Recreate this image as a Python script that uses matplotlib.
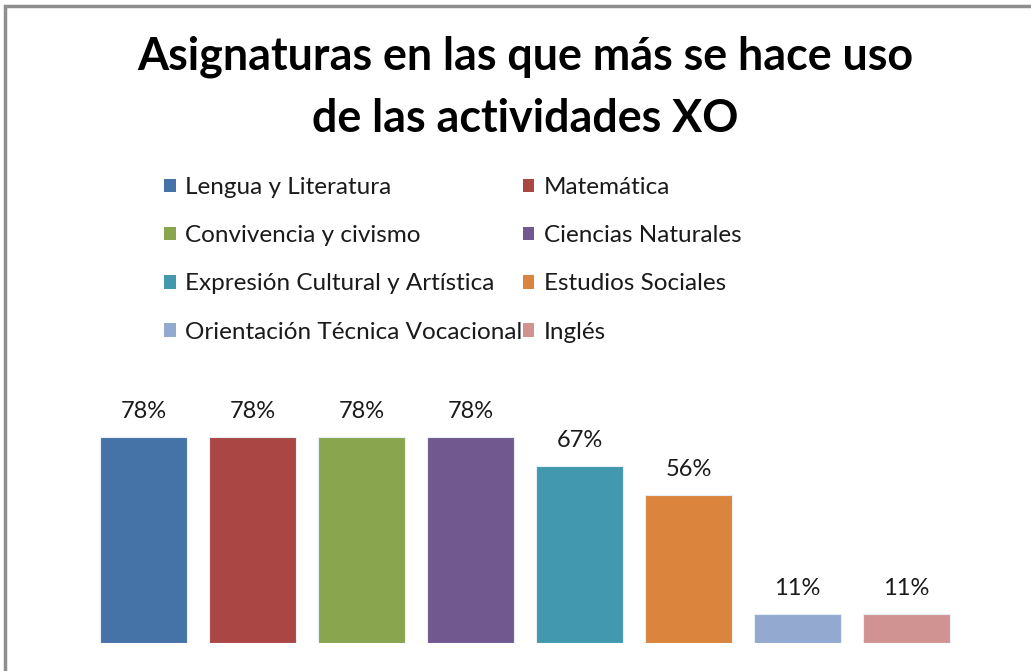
import matplotlib
matplotlib.use("Agg")
import matplotlib.pyplot as plt
from matplotlib.patches import Patch, Rectangle

categories = ["Lengua y Literatura", "Matemática", "Convivencia y civismo",
              "Ciencias Naturales", "Expresión Cultural y Artística",
              "Estudios Sociales", "Orientación Técnica Vocacional", "Inglés"]
values = [78, 78, 78, 78, 67, 56, 11, 11]
labels = ["78%", "78%", "78%", "78%", "67%", "56%", "11%", "11%"]
colors = ["#4572A7", "#AA4643", "#89A54E", "#71588F",
          "#4198AF", "#DB843D", "#93A9CF", "#D19392"]
title = "Asignaturas en las que más se hace uso\nde las actividades XO"

W, H = 1031, 671
fig = plt.figure(figsize=(W / 100, H / 100), dpi=100)
fig.patch.set_facecolor("white")

# outer border
fig.add_artist(Rectangle((5 / W, -0.1), 2, (H - 6) / H + 0.1, transform=fig.transFigure,
                         fill=False, edgecolor="#8f8f8f", linewidth=2.5))

ax = fig.add_axes([89 / W, (H - 643) / H, (961 - 89) / W, (643 - 379) / H])
x = list(range(len(values)))
bars = ax.bar(x, values, width=0.8, color=colors, edgecolor="#e8eef5", linewidth=0.8)
for b, lab in zip(bars, labels):
    ax.annotate(lab, (b.get_x() + b.get_width() / 2, b.get_height()),
                xytext=(0, 11), textcoords="offset points", ha="center", va="bottom",
                fontsize=17, family="Lato", color="#1a1a1a")
ax.set_xlim(-0.5, len(values) - 0.5)
ax.set_ylim(0, 100)
ax.axis("off")

fig.text(525 / W, 1 - 88 / H, title, ha="center", va="center", fontsize=32.3,
         fontweight="bold", family="Lato", linespacing=1.6, color="black")

handles = [Patch(facecolor=c, edgecolor="none") for c in colors]
order = [0, 2, 4, 6, 1, 3, 5, 7]
leg = fig.legend([handles[i] for i in order], [categories[i] for i in order],
                 ncol=2, frameon=False, loc="upper left",
                 bbox_to_anchor=(164 / W, 1 - 177 / H),
                 prop={"family": "Lato", "size": 17.5},
                 handlelength=0.48, handleheight=0.48, handletextpad=0.4,
                 columnspacing=0.0, labelspacing=1.12, borderaxespad=0, borderpad=0)
for t in leg.get_texts():
    t.set_color("#1a1a1a")

fig.savefig("out.png", dpi=100)
